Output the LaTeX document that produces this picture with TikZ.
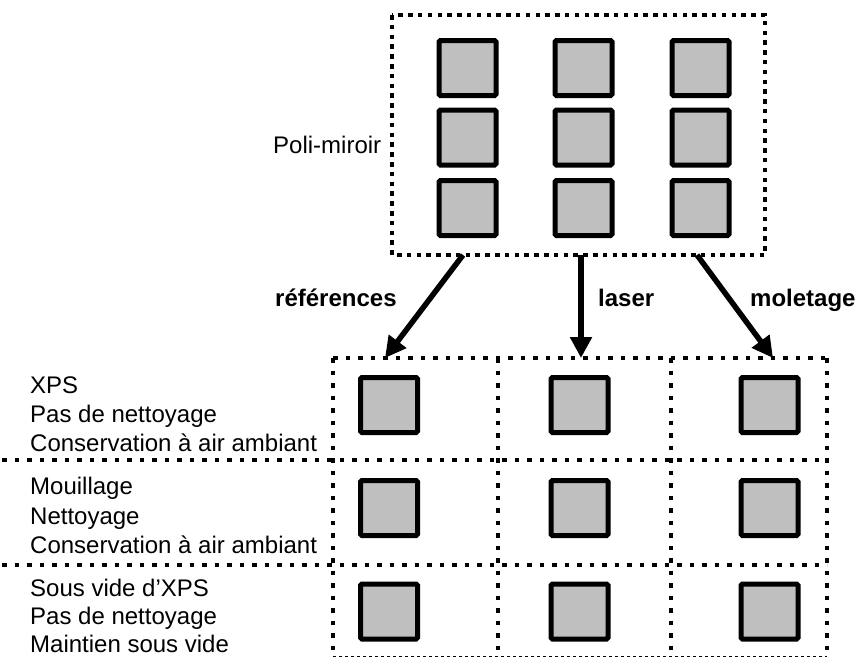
\documentclass[tikz,border=0pt]{standalone}
\usepackage{fontspec}
\setmainfont{Liberation Sans}
\usetikzlibrary{arrows.meta}
\definecolor{sqgray}{RGB}{191,191,191}
\begin{document}
\begin{tikzpicture}[x=1pt,y=-1pt,
  sq/.style={draw=black,line width=5pt,fill=sqgray,rounded corners=1.5pt,minimum width=57pt,minimum height=55pt,inner sep=0pt,outer sep=0pt},
  topdots/.style={line width=4pt,dash pattern=on 4.5pt off 5.3pt},
  griddots/.style={line width=4pt,dash pattern=on 4.5pt off 8pt},
  lbl/.style={anchor=base west,inner sep=0pt,font=\fontsize{24}{29}\selectfont},
  arlbl/.style={anchor=base west,inner sep=0pt,font=\fontsize{24}{29}\selectfont\bfseries},
  arr/.style={line width=5.5pt,-{Triangle[length=21pt,width=21pt]}}]
\useasboundingbox (0,0) rectangle (859,657);

% top box
\coordinate (tbNW) at (392,15);
\coordinate (tbSE) at (765,255);
\draw[topdots] (tbNW) rectangle (tbSE);
\foreach \c/\x in {1/467.5,2/583.5,3/700.5}{
  \foreach \r/\y in {1/68,2/137.5,3/208}{
    \node[sq] (t\r\c) at (\x,\y) {};
  }
}
\node[lbl] (poli) at (273,153) {Poli-miroir};

% bottom grid
\coordinate (gNW) at (333,358);
\coordinate (gNE) at (827,358);
\coordinate (gSW) at (333,656);
\coordinate (gSE) at (827,656);
\coordinate (d1N) at (498,358);
\coordinate (d1S) at (498,656);
\coordinate (d2N) at (671,358);
\coordinate (d2S) at (671,656);
\coordinate (s1W) at (2,460);
\coordinate (s1E) at (827,460);
\coordinate (s2W) at (2,565);
\coordinate (s2E) at (827,565);
\draw[griddots] (gNW) -- (gNE);
\draw[griddots] (gNW) -- (gSW);
\draw[griddots] (gNE) -- (gSE);
\draw[griddots] (d1N) -- (d1S);
\draw[griddots] (d2N) -- (d2S);
\draw[griddots] (s1W) -- (s1E);
\draw[griddots] (s2W) -- (s2E);
\draw[line width=1pt,dashed] (gSW) -- (gSE);

\foreach \c/\x in {1/389,2/579.5,3/769.5}{
  \foreach \r/\y in {1/405,2/508,3/611.5}{
    \node[sq] (g\r\c) at (\x,\y) {};
  }
}

% arrows
\coordinate (a1s) at (463,255);
\coordinate (a1e) at (385,358);
\coordinate (a2s) at (581,255);
\coordinate (a2e) at (581,358);
\coordinate (a3s) at (697,255);
\coordinate (a3e) at (773,358);
\draw[arr] (a1s) -- (a1e);
\draw[arr] (a2s) -- (a2e);
\draw[arr] (a3s) -- (a3e);
\node[arlbl] (lref) at (275,306) {références};
\node[arlbl] (llas) at (598,306) {laser};
\node[arlbl] (lmol) at (750,306) {moletage};

% row labels
\node[lbl] (r1a) at (30,393) {XPS};
\node[lbl] (r1b) at (30,422) {Pas de nettoyage};
\node[lbl] (r1c) at (30,451) {Conservation à air ambiant};
\node[lbl] (r2a) at (30,494) {Mouillage};
\node[lbl] (r2b) at (30,524) {Nettoyage};
\node[lbl] (r2c) at (30,553) {Conservation à air ambiant};
\node[lbl] (r3a) at (30,596) {Sous vide d’XPS};
\node[lbl] (r3b) at (30,624) {Pas de nettoyage};
\node[lbl] (r3c) at (30,652) {Maintien sous vide};
\end{tikzpicture}
\end{document}
